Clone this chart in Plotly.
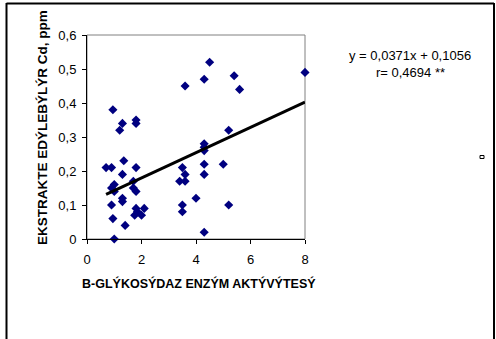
import plotly.graph_objects as go

# Data
enzyme_activity = [0.7, 0.9, 0.95, 0.9, 0.95, 1.0, 0.9, 1.0, 1.0, 1.2, 1.3, 1.3,
                   1.3, 1.3, 1.35, 1.4, 1.7, 1.7, 1.8, 1.8, 1.8, 1.8, 1.75, 1.8,
                   1.85, 2.0, 2.1, 3.4, 3.5, 3.5, 3.5, 3.6, 3.6, 3.6, 4.0, 4.3,
                   4.3, 4.3, 4.3, 4.3, 4.3, 4.3, 4.5, 5.0, 5.2, 5.2, 5.4, 5.6, 8.0]
cd_values = [0.21, 0.21, 0.38, 0.10, 0.06, 0.00, 0.15, 0.16, 0.14, 0.32, 0.34, 0.19,
             0.12, 0.11, 0.23, 0.04, 0.17, 0.15, 0.14, 0.35, 0.34, 0.21, 0.07, 0.09,
             0.08, 0.07, 0.09, 0.17, 0.21, 0.10, 0.08, 0.45, 0.19, 0.17, 0.12, 0.47,
             0.28, 0.27, 0.26, 0.22, 0.19, 0.02, 0.52, 0.22, 0.32, 0.10, 0.48, 0.44, 0.49]

slope = 0.0371
intercept = 0.1056
trend_x = [0.7, 8.0]
trend_y = [slope * v + intercept for v in trend_x]

y_tickvals = [0, 0.1, 0.2, 0.3, 0.4, 0.5, 0.6]
y_ticktext = ["0", "0,1", "0,2", "0,3", "0,4", "0,5", "0,6"]
x_tickvals = [0, 2, 4, 6, 8]
x_ticktext = ["0", "2", "4", "6", "8"]

W, H = 496, 339
L, R, T, B = 87, 305, 35, 239


def px(x):
    return (x - L) / (R - L)


def py(y):
    return (B - y) / (B - T)


fig = go.Figure()
fig.add_trace(go.Scatter(x=enzyme_activity, y=cd_values, mode="markers",
                         marker=dict(symbol="diamond", size=7, color="#000080",
                                     line=dict(width=0)),
                         showlegend=False, cliponaxis=False))
fig.add_trace(go.Scatter(x=trend_x, y=trend_y, mode="lines",
                         line=dict(color="black", width=3),
                         showlegend=False))

font = "Liberation Sans, Arial, sans-serif"
fig.update_layout(
    width=W, height=H,
    margin=dict(l=L, r=W - R, t=T, b=H - B, pad=0),
    paper_bgcolor="white", plot_bgcolor="white",
    font=dict(family=font, size=13, color="black"),
    xaxis=dict(range=[0, 8], tickvals=x_tickvals, ticktext=x_ticktext,
               showgrid=False, zeroline=False, showline=True, linecolor="black",
               linewidth=1, ticks="outside", ticklen=4, tickcolor="black",
               tickfont=dict(size=13), ticklabelstandoff=4),
    yaxis=dict(range=[0, 0.6], tickvals=y_tickvals, ticktext=y_ticktext,
               showgrid=False, zeroline=False, showline=True, linecolor="black",
               linewidth=1, ticks="outside", ticklen=4, tickcolor="black",
               tickfont=dict(size=13), ticklabelstandoff=3),
    shapes=[
        dict(type="rect", xref="paper", yref="paper", x0=0, x1=1, y0=0, y1=1,
             line=dict(color="#808080", width=1), layer="below"),
        dict(type="line", xref="paper", yref="paper", x0=px(6.5), x1=px(6.5),
             y0=py(3), y1=py(345), line=dict(color="black", width=2)),
        dict(type="line", xref="paper", yref="paper", x0=px(6.5), x1=px(494),
             y0=py(3.5), y1=py(3.5), line=dict(color="black", width=2)),
        dict(type="line", xref="paper", yref="paper", x0=px(494), x1=px(494),
             y0=py(3), y1=py(345), line=dict(color="black", width=2)),
        dict(type="rect", xref="paper", yref="paper", x0=px(480), x1=px(484),
             y0=py(158.5), y1=py(155.5), line=dict(color="black", width=1)),
    ],
    annotations=[
        dict(text="<b>B-GLÝKOSÝDAZ ENZÝM AKTÝVÝTESÝ</b>", xref="paper", yref="paper",
             x=px(199), y=py(283), showarrow=False, font=dict(size=12.5),
             xanchor="center", yanchor="middle"),
        dict(text="<b>EKSTRAKTE EDÝLEBÝLÝR Cd, ppm</b>", xref="paper", yref="paper",
             x=px(42), y=py(128), showarrow=False, textangle=-90, font=dict(size=13.5),
             xanchor="center", yanchor="middle"),
        dict(text="y = 0,0371x + 0,1056", xref="paper", yref="paper",
             x=px(410), y=py(55), showarrow=False, font=dict(size=13),
             xanchor="center", yanchor="middle"),
        dict(text="r= 0,4694 **", xref="paper", yref="paper",
             x=px(410), y=py(72), showarrow=False, font=dict(size=13),
             xanchor="center", yanchor="middle"),
    ],
)

fig.write_html("out.html", config={"displayModeBar": False},
               post_script="document.body.style.margin='0';document.body.style.overflow='hidden';")
